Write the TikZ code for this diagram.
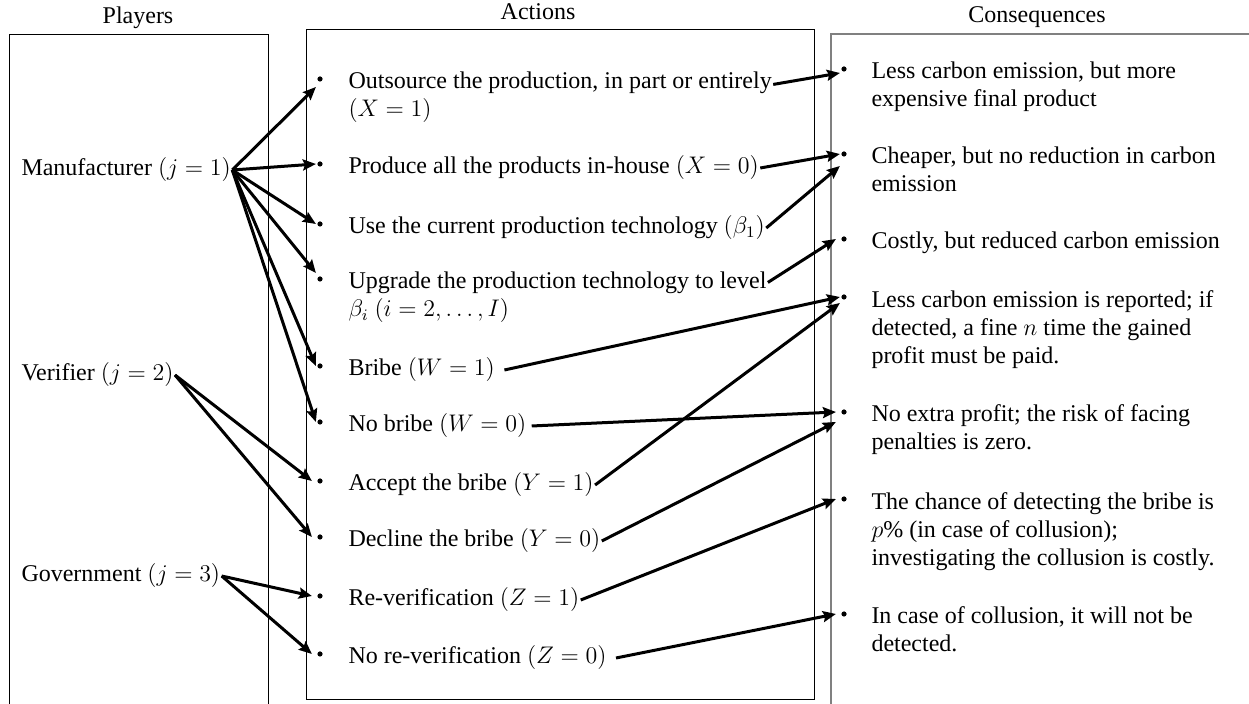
\documentclass[tikz,border=0pt]{standalone}
\usepackage{fontspec}
\setmainfont{Liberation Serif}
\usetikzlibrary{arrows.meta}

\begin{document}
\begin{tikzpicture}[x=0.5pt,y=-0.5pt,line width=1.5pt,>={Stealth[length=6.5pt,width=5.5pt,inset=1pt]},
    every node/.style={font=\fontsize{12}{14.2}\selectfont},
    txt/.style={anchor=base west,inner sep=0pt,align=left},
    bul/.style={circle,fill,inner sep=0pt,minimum size=2.6pt},
    frame/.style={line width=0.5pt}]
  \useasboundingbox (0,0) rectangle (1249,704);
  % the three columns
  \draw[frame] (9,704) -- (9,35) -- (268,35) -- (268,704);
  \draw[frame] (306,30) rectangle (814,700);
  \draw[frame,gray,line width=0.9pt] (831,704) -- (831,34) -- (1249,34);
  \node[anchor=base] (tplay) at (138,24) {Players};
  \node[anchor=base] (tact) at (538,20) {Actions};
  \node[anchor=base] (tcon) at (1037,23) {Consequences};
  % players (base = last line)
  \node[txt] (man) at (20,176) {Manufacturer $(j=1)$};
  \node[txt] (ver) at (20,381) {Verifier $(j=2)$};
  \node[txt] (gov) at (20,582) {Government $(j=3)$};
  % actions
  \node[bul] (ab1) at (320,79) {};   \node[txt] (act1) at (347,117) {Outsource the production, in part or entirely\\ $(X=1)$};
  \node[bul] (ab2) at (320,164) {};  \node[txt] (act2) at (347,174) {Produce all the products in-house $(X=0)$};
  \node[bul] (ab3) at (320,224) {};  \node[txt] (act3) at (347,234) {Use the current production technology $(\beta_1)$};
  \node[bul] (ab4) at (320,279) {};  \node[txt] (act4) at (347,317) {Upgrade the production technology to level\\ $\beta_i\ (i=2,\dots,I)$};
  \node[bul] (ab5) at (320,366) {};  \node[txt] (act5) at (347,376) {Bribe $(W=1)$};
  \node[bul] (ab6) at (320,422) {};  \node[txt] (act6) at (347,432) {No bribe $(W=0)$};
  \node[bul] (ab7) at (320,481) {};  \node[txt] (act7) at (347,491) {Accept the bribe $(Y=1)$};
  \node[bul] (ab8) at (320,537) {};  \node[txt] (act8) at (347,547) {Decline the bribe $(Y=0)$};
  \node[bul] (ab9) at (320,596) {};  \node[txt] (act9) at (347,606) {Re-verification $(Z=1)$};
  \node[bul] (ab10) at (320,654) {}; \node[txt] (act10) at (347,664) {No re-verification $(Z=0)$};
  % consequences
  \node[bul] (cb1) at (844,69) {};  \node[txt] (con1) at (870,107) {Less carbon emission, but more\\ expensive final product};
  \node[bul] (cb2) at (844,154) {}; \node[txt] (con2) at (870,192) {Cheaper, but no reduction in carbon\\ emission};
  \node[bul] (cb3) at (844,239) {}; \node[txt] (con3) at (870,249) {Costly, but reduced carbon emission};
  \node[bul] (cb4) at (844,297) {}; \node[txt] (con4) at (870,364) {Less carbon emission is reported; if\\ detected, a fine $n$ time the gained\\ profit must be paid.};
  \node[bul] (cb5) at (844,412) {}; \node[txt] (con5) at (870,450) {No extra profit; the risk of facing\\ penalties is zero.};
  \node[bul] (cb6) at (844,499) {}; \node[txt] (con6) at (870,566) {The chance of detecting the bribe is\\ $p$\% (in case of collusion);\\ investigating the collusion is costly.};
  \node[bul] (cb7) at (844,614) {}; \node[txt] (con7) at (870,652) {In case of collusion, it will not be\\ detected.};
  % players to actions
  \draw[->] (man.east) -- ([yshift=-4pt]ab1.west);
  \draw[->] (man.east) -- (ab2.west);
  \draw[->] (man.east) -- (ab3.west);
  \draw[->] (man.east) -- ([yshift=3pt]ab4.west);
  \draw[->] (man.east) -- (ab5.west);
  \draw[->] (man.east) -- (ab6.west);
  \draw[->] (ver.east) -- ([xshift=-2pt]ab7.west);
  \draw[->] (ver.east) -- ([xshift=-2pt]ab8.west);
  \draw[->] (gov.east) -- ([xshift=-2pt]ab9.west);
  \draw[->] (gov.east) -- ([xshift=-2pt]ab10.west);
  % actions to consequences
  \draw[->] ([yshift=-7pt]act1.north east) -- ([yshift=-2pt]cb1.west);
  \draw[->] (act2.east) -- (cb2.west);
  \draw[->] (act3.east) -- ([yshift=-6pt]cb2.west);
  \draw[->] ([yshift=-6pt]act4.north east) -- ([xshift=-2pt]cb3.west);
  \draw[->] ([xshift=4pt]act5.east) -- (cb4.west);
  \draw[->] (act7.east) -- ([yshift=-3pt]cb4.west);
  \draw[->] ([xshift=2pt]act6.east) -- ([xshift=-2pt]cb5.west);
  \draw[->] (act8.east) -- ([xshift=-2pt,yshift=-5pt]cb5.west);
  \draw[->] (act9.east) -- ([xshift=-2pt]cb6.west);
  \draw[->] ([xshift=4pt]act10.east) -- ([xshift=-2pt]cb7.west);
\end{tikzpicture}
\end{document}
